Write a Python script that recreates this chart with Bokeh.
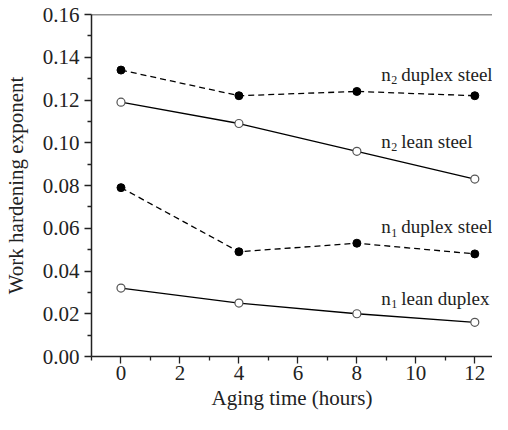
from bokeh.plotting import figure
from bokeh.models import FixedTicker, Range1d, NumeralTickFormatter, ColumnDataSource, Span
from bokeh.core.properties import value
from bokeh.embed import file_html
from bokeh.resources import INLINE

# ---- data ----
hours = [0, 4, 8, 12]
n2_duplex = [0.134, 0.122, 0.124, 0.122]
n2_lean = [0.119, 0.109, 0.096, 0.083]
n1_duplex = [0.079, 0.049, 0.053, 0.048]
n1_lean = [0.032, 0.025, 0.020, 0.016]

label_x = [8.83, 8.83, 8.83, 8.83]
label_y = [0.132, 0.1008, 0.0607, 0.0273]
label_main = ["n", "n", "n", "n"]
label_sub = ["2", "2", "1", "1"]
label_rest = ["duplex steel", "lean steel", "duplex steel", "lean duplex"]

x_ticks = [0, 2, 4, 6, 8, 10, 12]
y_ticks = [0.00, 0.02, 0.04, 0.06, 0.08, 0.10, 0.12, 0.14, 0.16]

FONT = "Liberation Serif"

p = figure(width=492, height=414, output_backend="svg", toolbar_location=None,
           x_range=Range1d(-1, 12.6), y_range=Range1d(0, 0.16),
           min_border_left=89, min_border_right=0, min_border_top=14, min_border_bottom=58)
p.outline_line_color = None
p.xgrid.visible = False
p.ygrid.visible = False
p.background_fill_color = "white"
p.border_fill_color = "white"

# axes styling
for ax, ticks, label in [(p.xaxis[0], x_ticks, "Aging time (hours)"),
                         (p.yaxis[0], y_ticks, "Work hardening exponent")]:
    step = ticks[1] - ticks[0]
    ax.ticker = FixedTicker(ticks=ticks,
                            minor_ticks=[t + step / 2 for t in [ticks[0] - step] + ticks])
    ax.axis_label = label
    ax.axis_label_text_font = FONT
    ax.axis_label_text_font_style = "normal"
    ax.axis_label_text_font_size = "21px"
    ax.axis_label_text_color = "#222222"
    ax.major_label_text_font = FONT
    ax.major_label_text_font_size = "21px"
    ax.major_label_text_color = "#222222"
    ax.axis_line_color = "#222222"
    ax.axis_line_width = 1.5
    ax.major_tick_line_color = "#222222"
    ax.minor_tick_line_color = "#222222"
    ax.major_tick_line_width = 1.3
    ax.minor_tick_line_width = 1.3
    ax.major_tick_in = 0
    ax.major_tick_out = 7
    ax.minor_tick_in = 0
    ax.minor_tick_out = 4

p.xaxis[0].major_label_standoff = 2
p.xaxis[0].axis_label_standoff = 3
p.yaxis[0].major_label_standoff = 5
p.yaxis[0].axis_label_standoff = 12
p.yaxis[0].formatter = NumeralTickFormatter(format="0.00")

# top border line only
p.add_layout(Span(location=0.16, dimension="width", line_color="#222222", line_width=1.5))

# lines
p.line(hours, n2_duplex, line_color="black", line_width=1.3, line_dash="6 4")
p.line(hours, n1_duplex, line_color="black", line_width=1.3, line_dash="6 4")
p.line(hours, n2_lean, line_color="black", line_width=1.3)
p.line(hours, n1_lean, line_color="black", line_width=1.3)

# markers
p.scatter(hours, n2_duplex, size=8, fill_color="black", line_color="black")
p.scatter(hours, n1_duplex, size=8, fill_color="black", line_color="black")
p.scatter(hours, n2_lean, size=8, fill_color="white", line_color="#555555", line_width=1.2)
p.scatter(hours, n1_lean, size=8, fill_color="white", line_color="#555555", line_width=1.2)

# labels with subscripts
src = ColumnDataSource(dict(x=label_x, y=label_y, main=label_main, sub=label_sub, rest=label_rest))
p.text(x="x", y="y", text="main", source=src, text_font=value(FONT), text_font_size="19px",
       text_align="left", text_baseline="middle", text_color="#222222")
p.text(x="x", y="y", text="sub", source=src, text_font=value(FONT), text_font_size="12px",
       text_align="left", text_baseline="middle", text_color="#222222", x_offset=10, y_offset=6)
p.text(x="x", y="y", text="rest", source=src, text_font=value(FONT), text_font_size="19px",
       text_align="left", text_baseline="middle", text_color="#222222", x_offset=20)

open("out.html", "w").write(file_html(p, INLINE))
